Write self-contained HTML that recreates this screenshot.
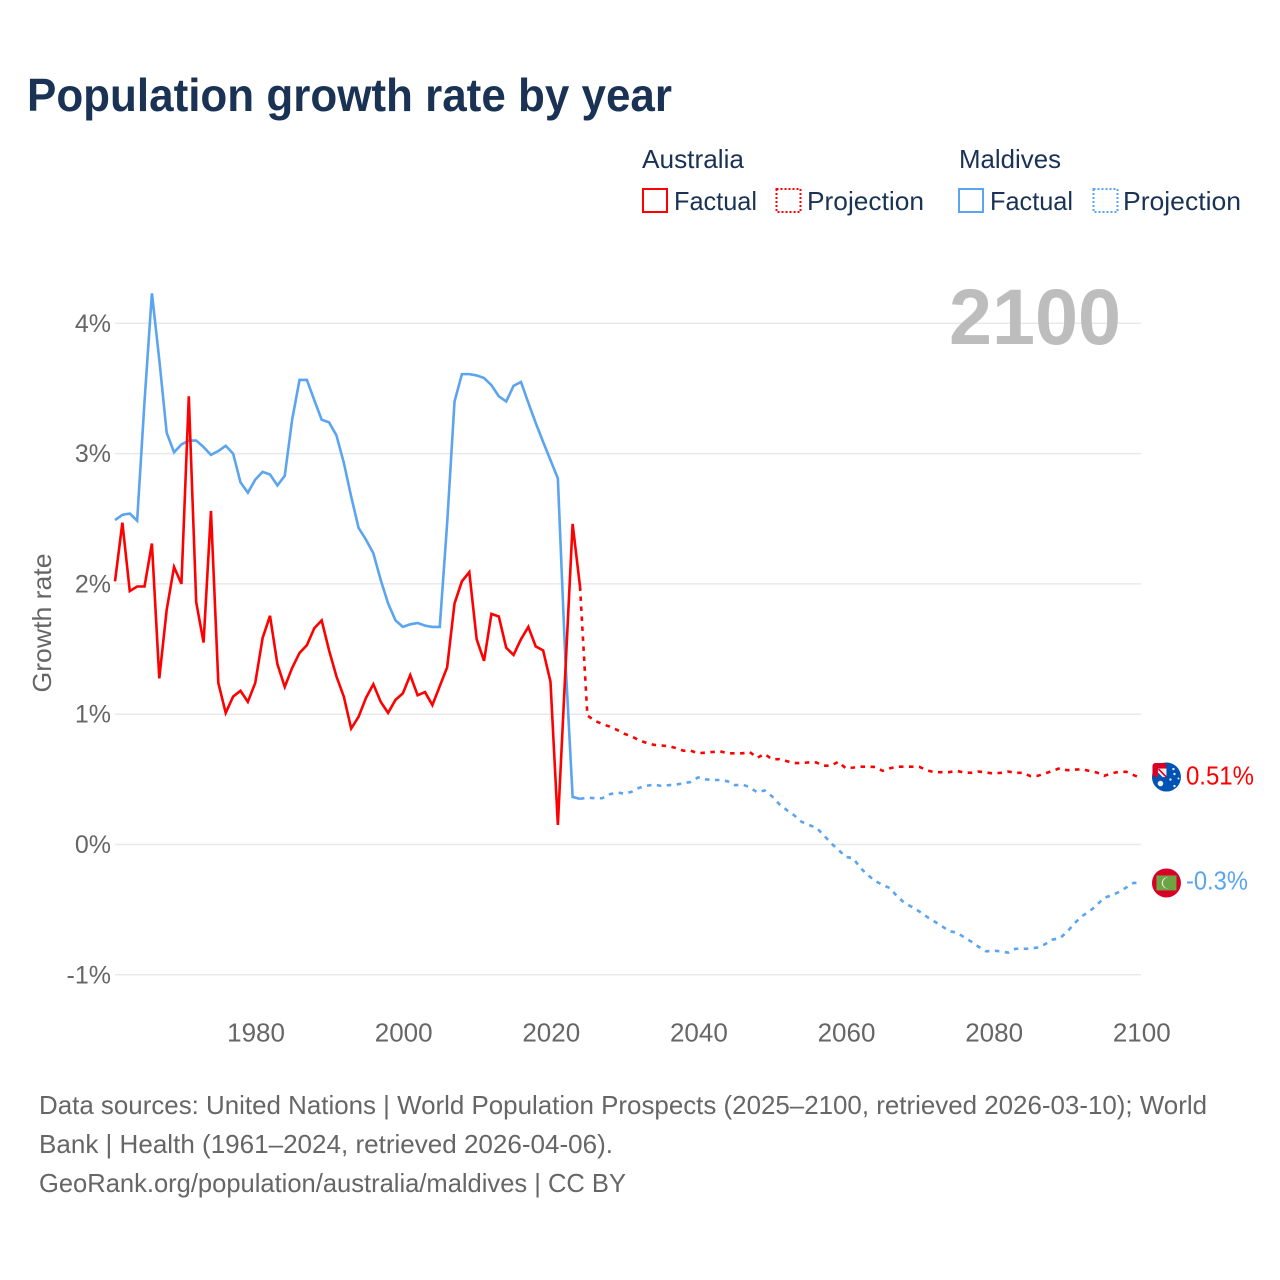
<!DOCTYPE html>
<html lang="en">
<head>
<meta charset="utf-8">
<title>Population growth rate by year</title>
<style>
  html, body { margin: 0; padding: 0; background: #fff; }
  svg { display: block; font-family: "Liberation Sans", sans-serif; }
  .navy { fill: #1a3355; }
  .gray { fill: #666; }
</style>
</head>
<body>
<svg id="chart" width="1280" height="1280" viewBox="0 0 1280 1280" xmlns="http://www.w3.org/2000/svg">
  <rect width="1280" height="1280" fill="#fff"/>
  <text class="navy" x="27" y="111" font-size="46" font-weight="700" textLength="645" lengthAdjust="spacingAndGlyphs">Population growth rate by year</text>

  <g font-size="26">
    <text class="navy" x="642" y="168" textLength="102" lengthAdjust="spacingAndGlyphs">Australia</text>
    <text class="navy" x="959" y="168" textLength="102" lengthAdjust="spacingAndGlyphs">Maldives</text>
    <g>
      <rect x="643" y="189" width="24" height="23" fill="none" stroke="#ff0000" stroke-width="2"/>
      <text class="navy" x="674" y="210" textLength="83" lengthAdjust="spacingAndGlyphs">Factual</text>
    </g>
    <g>
      <rect x="776.5" y="189" width="24" height="23" fill="none" stroke="#ff0000" stroke-width="2" stroke-dasharray="2 2"/>
      <text class="navy" x="807" y="210" textLength="117" lengthAdjust="spacingAndGlyphs">Projection</text>
    </g>
    <g>
      <rect x="959" y="189" width="24" height="23" fill="none" stroke="#5ba4ef" stroke-width="2"/>
      <text class="navy" x="990" y="210" textLength="83" lengthAdjust="spacingAndGlyphs">Factual</text>
    </g>
    <g>
      <rect x="1093.5" y="189" width="24" height="23" fill="none" stroke="#5ba4ef" stroke-width="2" stroke-dasharray="2 2"/>
      <text class="navy" x="1123" y="210" textLength="118" lengthAdjust="spacingAndGlyphs">Projection</text>
    </g>
  </g>

  <g id="grid"></g>
  <g id="yticks"></g>
  <g id="xticks"></g>

  <text class="gray" font-size="26" text-anchor="middle" transform="translate(51 623) rotate(-90)" textLength="139" lengthAdjust="spacingAndGlyphs">Growth rate</text>

  <text x="949" y="344" font-size="79" font-weight="700" fill="#bdbdbd" textLength="172" lengthAdjust="spacingAndGlyphs">2100</text>

  <g id="series"></g>

  <g id="flag-au">
    <circle r="14.5" fill="#0052b4"/>
    <rect x="-14" y="-14" width="14" height="14" rx="3" fill="#d80027"/>
    <rect x="-8.5" y="-8.5" width="8.5" height="8.5" fill="#f0f0f0"/>
    <path d="M-8-8L0 0" stroke="#d80027" stroke-width="1.6" fill="none"/>
    <path d="M-8.5-4.5L-4 0H-8.5Z" fill="#0052b4"/>
    <circle cx="-6" cy="6.5" r="2.8" fill="#f0f0f0"/>
    <circle cx="7" cy="-8" r="1.2" fill="#f0f0f0"/>
    <circle cx="8" cy="-3" r="1.2" fill="#f0f0f0"/>
    <circle cx="4" cy="2.5" r="1.2" fill="#f0f0f0"/>
    <circle cx="12" cy="1.5" r="1" fill="#f0f0f0"/>
    <circle cx="8" cy="9" r="1.2" fill="#f0f0f0"/>
  </g>
  <g id="flag-mv">
    <circle r="14.5" fill="#d80027"/>
    <rect x="-10" y="-7.5" width="20" height="15" fill="#6da544"/>
    <path d="M2-5.5A5.6 5.6 0 1 0 2 5.5A4.4 4.4 0 1 1 2-5.5Z" fill="#f0f0f0"/>
  </g>
  <text id="label-au" font-size="26" fill="#ff0000" text-anchor="start" textLength="68" lengthAdjust="spacingAndGlyphs"></text>
  <text id="label-mv" font-size="26" fill="#5ba4ef" text-anchor="start" textLength="62" lengthAdjust="spacingAndGlyphs"></text>

  <g font-size="26" class="gray">
    <text class="gray" x="39" y="1114" textLength="1168" lengthAdjust="spacingAndGlyphs">Data sources: United Nations | World Population Prospects (2025–2100, retrieved 2026-03-10); World</text>
    <text class="gray" x="39" y="1153" textLength="574" lengthAdjust="spacingAndGlyphs">Bank | Health (1961–2024, retrieved 2026-04-06).</text>
    <text class="gray" x="39" y="1192" textLength="587" lengthAdjust="spacingAndGlyphs">GeoRank.org/population/australia/maldives | CC BY</text>
  </g>
</svg>
<script>
const yTickValues = [4, 3, 2, 1, 0, -1];
const yTickLabels = ["4%", "3%", "2%", "1%", "0%", "-1%"];
const xTickYears = [1980, 2000, 2020, 2040, 2060, 2080, 2100];
const factualStartYear = 1961;
const projectionStartYear = 2024;

const australiaFactual = [2.02,2.47,1.945,1.98,1.98,2.31,1.275,1.80,2.13,2.00,3.44,1.86,1.55,2.56,1.24,1.01,1.135,1.18,1.095,1.24,1.585,1.755,1.385,1.21,1.355,1.47,1.53,1.66,1.72,1.49,1.29,1.135,0.89,0.98,1.125,1.23,1.095,1.01,1.11,1.16,1.30,1.145,1.17,1.07,1.215,1.36,1.85,2.02,2.09,1.575,1.41,1.77,1.75,1.51,1.455,1.575,1.67,1.52,1.49,1.25,0.15,1.31,2.46,1.98];
const australiaProjection = [1.98,0.99,0.95,0.925,0.905,0.88,0.85,0.83,0.80,0.78,0.765,0.76,0.755,0.74,0.72,0.72,0.70,0.705,0.71,0.715,0.70,0.70,0.70,0.71,0.665,0.695,0.655,0.655,0.64,0.625,0.625,0.63,0.63,0.605,0.605,0.635,0.585,0.59,0.597,0.597,0.595,0.565,0.585,0.597,0.597,0.597,0.595,0.57,0.555,0.555,0.555,0.565,0.553,0.55,0.56,0.553,0.545,0.55,0.56,0.55,0.55,0.525,0.527,0.545,0.565,0.585,0.57,0.575,0.577,0.565,0.553,0.527,0.545,0.558,0.558,0.533,0.51];
const maldivesFactual = [2.49,2.53,2.54,2.485,3.40,4.23,3.72,3.16,3.01,3.07,3.10,3.10,3.05,2.99,3.02,3.06,3.00,2.78,2.70,2.80,2.86,2.84,2.755,2.83,3.26,3.565,3.565,3.41,3.26,3.24,3.14,2.93,2.67,2.43,2.34,2.235,2.03,1.85,1.72,1.67,1.69,1.70,1.68,1.67,1.67,2.465,3.40,3.61,3.61,3.60,3.58,3.525,3.44,3.40,3.52,3.55,3.39,3.235,3.09,2.95,2.81,1.44,0.365,0.35];
const maldivesProjection = [0.35,0.36,0.355,0.355,0.385,0.40,0.39,0.405,0.435,0.45,0.46,0.45,0.455,0.46,0.47,0.48,0.515,0.50,0.495,0.495,0.485,0.455,0.46,0.44,0.40,0.415,0.37,0.31,0.265,0.225,0.175,0.15,0.13,0.073,0.01,-0.04,-0.095,-0.105,-0.18,-0.235,-0.28,-0.31,-0.335,-0.40,-0.45,-0.48,-0.515,-0.555,-0.59,-0.625,-0.665,-0.675,-0.71,-0.745,-0.785,-0.82,-0.815,-0.82,-0.83,-0.80,-0.80,-0.80,-0.79,-0.765,-0.73,-0.72,-0.67,-0.605,-0.55,-0.515,-0.465,-0.41,-0.39,-0.365,-0.33,-0.295,-0.295];
const endValueAustralia = "0.51%";
const endValueMaldives = "-0.3%";

const NS = "http://www.w3.org/2000/svg";
const COLOR_AU = "#ff0000";
const COLOR_MV = "#5ba4ef";
const PLOT_LEFT = 115;
const PLOT_RIGHT = 1141;

function x(year) { return 115 + (year - 1961) * 7.381; }
function y(value) { return 844.5 - 130.3 * value; }

const gridLayer = document.getElementById("grid");
const yTickLayer = document.getElementById("yticks");
const xTickLayer = document.getElementById("xticks");
const seriesLayer = document.getElementById("series");

yTickValues.forEach(function (v, i) {
  const line = document.createElementNS(NS, "line");
  
  
  line.setAttribute("x1", PLOT_LEFT);
  line.setAttribute("x2", PLOT_RIGHT);
  line.setAttribute("y1", y(v));
  line.setAttribute("y2", y(v));
  line.setAttribute("stroke", "#e9e9e9");
  line.setAttribute("stroke-width", "1.5");
  gridLayer.appendChild(line);

  const label = document.createElementNS(NS, "text");
  
  
  label.setAttribute("x", 111);
  label.setAttribute("y", y(v) + 8.5);
  label.setAttribute("text-anchor", "end");
  label.setAttribute("font-size", "25");
  label.setAttribute("class", "gray");
  label.textContent = yTickLabels[i];
  yTickLayer.appendChild(label);
});

xTickYears.forEach(function (yr) {
  const label = document.createElementNS(NS, "text");
  
  
  label.setAttribute("x", x(yr) + 0.8);
  label.setAttribute("y", 1041.5);
  label.setAttribute("text-anchor", "middle");
  label.setAttribute("font-size", "26");
  label.setAttribute("class", "gray");
  label.textContent = String(yr);
  xTickLayer.appendChild(label);
});

function linePath(values, startYear) {
  return values.map(function (v, i) {
    return (i === 0 ? "M" : "L") + x(startYear + i).toFixed(2) + " " + y(v).toFixed(2);
  }).join(" ");
}

function addLine(values, startYear, color, dashed, name) {
  const path = document.createElementNS(NS, "path");
  
  
  path.setAttribute("d", linePath(values, startYear));
  path.setAttribute("fill", "none");
  path.setAttribute("stroke", color);
  path.setAttribute("stroke-width", "2.6");
  path.setAttribute("stroke-linejoin", "miter");
  if (dashed) path.setAttribute("stroke-dasharray", "4.5 5.5");
  seriesLayer.appendChild(path);
}

addLine(maldivesFactual, factualStartYear, COLOR_MV, false, "maldives-factual-line");
addLine(maldivesProjection, projectionStartYear, COLOR_MV, true, "maldives-projection-line");
addLine(australiaFactual, factualStartYear, COLOR_AU, false, "australia-factual-line");
addLine(australiaProjection, projectionStartYear, COLOR_AU, true, "australia-projection-line");

const endYear = projectionStartYear + australiaProjection.length - 1;
const auEnd = australiaProjection[australiaProjection.length - 1];
const mvEnd = maldivesProjection[maldivesProjection.length - 1];
document.getElementById("flag-au").setAttribute("transform", "translate(" + (x(endYear) + 25.5) + " " + (y(auEnd) - 1) + ")");
document.getElementById("flag-mv").setAttribute("transform", "translate(" + (x(endYear) + 25.5) + " " + y(mvEnd) + ")");
const labelAu = document.getElementById("label-au");
labelAu.setAttribute("x", x(endYear) + 45);
labelAu.setAttribute("y", y(auEnd) + 6.5);
labelAu.textContent = endValueAustralia;
const labelMv = document.getElementById("label-mv");
labelMv.setAttribute("x", x(endYear) + 45);
labelMv.setAttribute("y", y(mvEnd) + 6.5);
labelMv.textContent = endValueMaldives;
</script>
</body>
</html>
